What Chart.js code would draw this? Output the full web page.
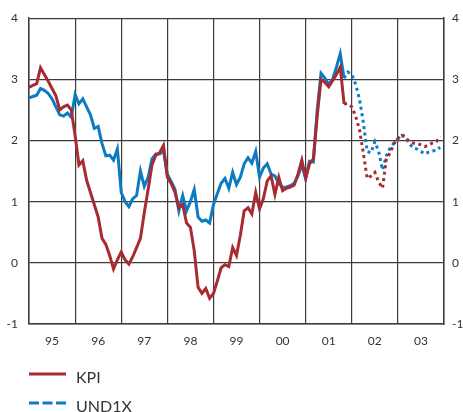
<!DOCTYPE html>
<html><head><meta charset="utf-8">
<script src="https://cdn.jsdelivr.net/npm/chart.js@4/dist/chart.umd.min.js"></script>
<style>html,body{margin:0;padding:0;background:#fff}#wrap{width:463px;height:412px;position:relative}</style>
</head><body><div id="wrap"><canvas id="c" width="463" height="412"></canvas></div>
<script>
// Year labels (each year = 12 monthly points, Jan 1995 .. Dec 2003)
const yearLabels = ['95','96','97','98','99','00','01','02','03'];
const yTicks = [-1,0,1,2,3,4];
const forecastStart = 82; // index from which the series are forecasts (dotted)
const seriesNames = ['KPI','UND1X'];

const kpi = [
 2.87,2.9,2.93,3.19,3.08,2.97,2.85,2.73,2.5,2.55,2.58,2.5,
 2.08,1.6,1.67,1.35,1.15,0.95,0.75,0.4,0.3,0.12,-0.1,0.05,
 0.18,0.05,-0.02,0.1,0.25,0.4,0.82,1.2,1.6,1.76,1.8,1.92,
 1.4,1.3,1.15,0.9,0.95,0.65,0.58,0.2,-0.4,-0.5,-0.42,-0.58,
 -0.5,-0.3,-0.08,-0.03,-0.06,0.25,0.12,0.45,0.85,0.9,0.8,1.15,
 0.88,1.05,1.34,1.42,1.12,1.4,1.18,1.22,1.24,1.27,1.45,1.68,
 1.38,1.62,1.7,2.4,3.0,2.95,2.88,2.98,3.08,3.2,
 2.6,2.6,2.55,2.4,2.18,1.8,1.38,1.42,1.48,1.32,1.22,1.7,
 1.8,1.95,2.03,2.1,2.05,1.98,1.96,1.95,1.93,1.9,1.93,1.96,1.98,2.07
];
const und1x = [
 2.7,2.72,2.74,2.85,2.82,2.77,2.68,2.55,2.42,2.4,2.45,2.38,
 2.75,2.6,2.68,2.55,2.42,2.2,2.23,1.95,1.75,1.76,1.68,1.86,
 1.15,1.0,0.92,1.05,1.1,1.5,1.25,1.4,1.7,1.78,1.78,1.83,
 1.45,1.33,1.2,0.85,1.1,0.85,1.0,1.2,0.75,0.68,0.7,0.65,
 0.95,1.13,1.3,1.38,1.22,1.48,1.28,1.4,1.62,1.72,1.63,1.82,
 1.4,1.55,1.62,1.45,1.42,1.3,1.23,1.24,1.26,1.3,1.42,1.6,
 1.38,1.66,1.65,2.5,3.1,3.02,2.92,3.0,3.2,3.42,
 3.02,3.12,3.08,2.92,2.68,2.3,1.82,1.8,1.98,1.82,1.52,1.75,
 1.88,1.96,2.03,2.08,2.05,1.95,1.88,1.86,1.82,1.78,1.81,1.83,1.84,1.89
];

const RED = '#a82a32';
const BLUE = '#0b7cc2';
const GRID = '#3c3c3c';
const TXT = '#333333';
const nMonths = yearLabels.length * 12;

const toPts = arr => arr.map((v, i) => ({x: i, y: v}));
const dotted = ctx => ctx.p0DataIndex >= forecastStart ? [3, 3.5] : undefined;

const legendPlugin = {
  id: 'customLegend',
  afterDraw(chart) {
    const ctx = chart.ctx;
    ctx.save();
    ctx.font = '16px Lato, "Open Sans", sans-serif';
    ctx.fillStyle = TXT;
    ctx.textBaseline = 'middle';
    ctx.lineWidth = 3;
    ctx.lineCap = 'butt';
    // KPI
    ctx.strokeStyle = RED; ctx.setLineDash([]);
    ctx.beginPath(); ctx.moveTo(29, 374); ctx.lineTo(66, 374); ctx.stroke();
    ctx.fillText(seriesNames[0], 76, 378);
    // UND1X
    ctx.strokeStyle = BLUE; ctx.setLineDash([10, 3.5]);
    ctx.beginPath(); ctx.moveTo(29, 403); ctx.lineTo(66, 403); ctx.stroke();
    ctx.setLineDash([]);
    ctx.fillText(seriesNames[1], 76, 407);
    ctx.restore();
  }
};

Chart.defaults.font.family = 'Lato, "Open Sans", sans-serif';
Chart.defaults.color = TXT;

new Chart(document.getElementById('c'), {
  type: 'line',
  data: {
    datasets: [
      {label: seriesNames[0], data: toPts(kpi), borderColor: RED, borderWidth: 3,
       pointRadius: 0, tension: 0, segment: {borderDash: dotted}, borderCapStyle: 'butt'},
      {label: seriesNames[1], data: toPts(und1x), borderColor: BLUE, borderWidth: 3,
       pointRadius: 0, tension: 0, segment: {borderDash: dotted}, borderCapStyle: 'butt'}
    ]
  },
  options: {
    responsive: false,
    animation: false,
    devicePixelRatio: 1,
    layout: {padding: {top: 18, bottom: 0, left: 0, right: 0}},
    plugins: {legend: {display: false}, tooltip: {enabled: false}},
    scales: {
      x: {
        type: 'linear', min: 0, max: nMonths, position: 'bottom',
        afterBuildTicks: ax => { ax.ticks = yearLabels.map((_, i) => ({value: i * 12})).concat([{value: nMonths}]); },
        ticks: {display: false},
        grid: {color: GRID, lineWidth: 1.2, drawTicks: false},
        border: {color: GRID, width: 1.5},
        afterFit: ax => { ax.height = 0; }
      },
      x2: {
        type: 'linear', min: 0, max: nMonths, position: 'bottom',
        afterBuildTicks: ax => { ax.ticks = yearLabels.map((_, i) => ({value: i * 12 + 6})); },
        ticks: {autoSkip: false, maxRotation: 0, padding: 10, font: {size: 12},
                callback: (v, i) => yearLabels[i]},
        grid: {display: false, drawTicks: false},
        border: {display: false},
        afterFit: ax => { ax.height = 88; }
      },
      y: {
        type: 'linear', min: -1, max: 4, position: 'left',
        afterBuildTicks: ax => { ax.ticks = yTicks.map(v => ({value: v})); },
        ticks: {padding: 11, font: {size: 12}},
        grid: {color: GRID, lineWidth: 1.2, drawTicks: false},
        border: {color: GRID, width: 1.5},
        afterFit: ax => { ax.width = 29; }
      },
      y2: {
        type: 'linear', min: -1, max: 4, position: 'right',
        afterBuildTicks: ax => { ax.ticks = yTicks.map(v => ({value: v})); },
        ticks: {padding: 8, font: {size: 12}},
        grid: {display: false, drawTicks: false},
        border: {color: GRID, width: 1.5},
        afterFit: ax => { ax.width = 19; }
      }
    }
  },
  plugins: [legendPlugin]
});
</script>
</body></html>
